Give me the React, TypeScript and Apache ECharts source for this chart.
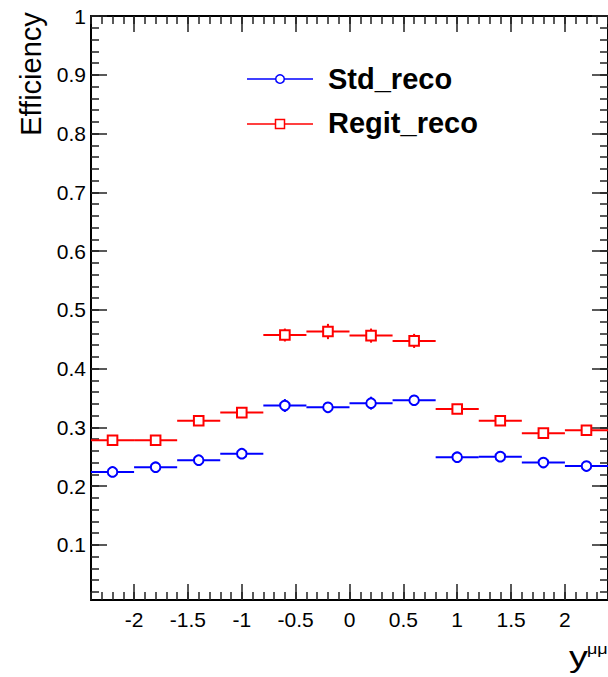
import React, { useEffect, useRef } from "react";
import * as echarts from "echarts";

// Rapidity bins (centre, half width 0.2)
const binCenters = [-2.2, -1.8, -1.4, -1.0, -0.6, -0.2, 0.2, 0.6, 1.0, 1.4, 1.8, 2.2];
const binHalfWidth = 0.2;

// Efficiencies and their statistical errors
const stdReco = [0.224, 0.232, 0.244, 0.255, 0.337, 0.334, 0.341, 0.346, 0.249, 0.25, 0.24, 0.234];
const stdRecoErr = [0.005, 0.005, 0.005, 0.006, 0.011, 0.009, 0.011, 0.009, 0.006, 0.006, 0.005, 0.005];
const regitReco = [0.278, 0.278, 0.311, 0.325, 0.457, 0.463, 0.456, 0.447, 0.331, 0.311, 0.29, 0.295];
const regitRecoErr = [0.006, 0.006, 0.007, 0.008, 0.011, 0.013, 0.012, 0.012, 0.008, 0.007, 0.006, 0.006];

// Axis ticks
const xMajorTicks = [-2, -1.5, -1, -0.5, 0, 0.5, 1, 1.5, 2];
const yMajorTicks = [0.1, 0.2, 0.3, 0.4, 0.5, 0.6, 0.7, 0.8, 0.9, 1];

const X_MIN = -2.4;
const X_MAX = 2.4;
const Y_MIN = 0.006;
const Y_MAX = 1;

const FONT = "'Liberation Sans', Arial, Helvetica, sans-serif";

function steps(from: number, to: number, step: number): number[] {
  const out: number[] = [];
  const n = Math.round((to - from) / step);
  for (let i = 0; i <= n; i++) out.push(+(from + i * step).toFixed(4));
  return out;
}

const xMinorTicks = steps(-2.4, 2.4, 0.1);
const yMinorTicks = steps(0.02, 1, 0.02);

function makeRenderItem(color: string, shape: "circle" | "square") {
  return (params: any, api: any) => {
    const x = api.value(0);
    const y = api.value(1);
    const e = api.value(2);
    const c = api.coord([x, y]);
    const l = api.coord([x - binHalfWidth, y]);
    const r = api.coord([x + binHalfWidth, y]);
    const t = api.coord([x, y + e]);
    const b = api.coord([x, y - e]);
    const lineStyle = { stroke: color, lineWidth: 2, fill: "none" };
    const markerStyle = { stroke: color, lineWidth: 2, fill: "#fff" };
    const marker =
      shape === "circle"
        ? { type: "circle", shape: { cx: c[0], cy: c[1], r: 4.8 }, style: markerStyle }
        : {
            type: "rect",
            shape: { x: c[0] - 4.8, y: c[1] - 4.8, width: 9.6, height: 9.6 },
            style: markerStyle,
          };
    return {
      type: "group",
      children: [
        { type: "line", shape: { x1: l[0], y1: c[1], x2: r[0], y2: c[1] }, style: lineStyle },
        { type: "line", shape: { x1: c[0], y1: t[1], x2: c[0], y2: b[1] }, style: lineStyle },
        marker,
      ],
    };
  };
}

function xAxisPair(position: "bottom" | "top", withLabels: boolean) {
  return [
    {
      type: "value",
      position,
      min: X_MIN,
      max: X_MAX,
      axisLine: { show: true, onZero: false, lineStyle: { color: "#000", width: 2 } },
      axisTick: {
        show: true,
        inside: true,
        length: 16,
        customValues: xMajorTicks,
        lineStyle: { color: "#222", width: 1.5 },
      },
      axisLabel: {
        show: withLabels,
        customValues: xMajorTicks,
        margin: 9,
        fontSize: 21,
        color: "#000",
        fontFamily: FONT,
      },
      splitLine: { show: false },
    },
    {
      type: "value",
      position,
      min: X_MIN,
      max: X_MAX,
      axisLine: { show: false, onZero: false },
      axisTick: {
        show: true,
        inside: true,
        length: 8,
        customValues: xMinorTicks,
        lineStyle: { color: "#222", width: 1.5 },
      },
      axisLabel: { show: false },
      splitLine: { show: false },
    },
  ];
}

function yAxisPair(position: "left" | "right", withLabels: boolean) {
  return [
    {
      type: "value",
      position,
      min: Y_MIN,
      max: Y_MAX,
      axisLine: { show: true, onZero: false, lineStyle: { color: "#000", width: 2 } },
      axisTick: {
        show: true,
        inside: true,
        length: 16,
        customValues: yMajorTicks,
        lineStyle: { color: "#222", width: 1.5 },
      },
      axisLabel: {
        show: withLabels,
        customValues: yMajorTicks,
        margin: 5,
        fontSize: 21,
        color: "#000",
        fontFamily: FONT,
      },
      splitLine: { show: false },
    },
    {
      type: "value",
      position,
      min: Y_MIN,
      max: Y_MAX,
      axisLine: { show: false, onZero: false },
      axisTick: {
        show: true,
        inside: true,
        length: 8,
        customValues: yMinorTicks,
        lineStyle: { color: "#222", width: 1.5 },
      },
      axisLabel: { show: false },
      splitLine: { show: false },
    },
  ];
}

export default function App() {
  const ref = useRef<HTMLDivElement>(null);

  useEffect(() => {
    if (!ref.current) return;
    const chart = echarts.init(ref.current, undefined, { renderer: "svg" });

    const stdData = binCenters.map((x, i) => [x, stdReco[i], stdRecoErr[i]]);
    const regitData = binCenters.map((x, i) => [x, regitReco[i], regitRecoErr[i]]);

    chart.setOption({
      animation: false,
      backgroundColor: "#fff",
      grid: { left: 91, top: 16, width: 520, height: 584, containLabel: false },
      xAxis: [...xAxisPair("bottom", true), ...xAxisPair("top", false)],
      yAxis: [...yAxisPair("left", true), ...yAxisPair("right", false)],
      series: [
        {
          name: "Std_reco",
          type: "custom",
          xAxisIndex: 0,
          yAxisIndex: 0,
          renderItem: makeRenderItem("#0000ff", "circle"),
          encode: { x: 0, y: 1 },
          data: stdData,
          clip: true,
          z: 3,
        },
        {
          name: "Regit_reco",
          type: "custom",
          xAxisIndex: 0,
          yAxisIndex: 0,
          renderItem: makeRenderItem("#ff0000", "square"),
          encode: { x: 0, y: 1 },
          data: regitData,
          clip: true,
          z: 4,
        },
      ],
      graphic: [
        // y-axis title
        {
          type: "text",
          x: 31,
          y: 74,
          rotation: Math.PI / 2,
          style: {
            text: "Efficiency",
            fontSize: 29,
            fontFamily: FONT,
            fill: "#000",
            textAlign: "center",
            textVerticalAlign: "middle",
          },
        },
        // x-axis title y^{μμ}
        {
          type: "text",
          x: 569,
          y: 672,
          scaleX: 1.3,
          style: {
            text: "y",
            fontSize: 29,
            fontFamily: FONT,
            fill: "#000",
            textAlign: "left",
            textVerticalAlign: "bottom",
          },
        },
        {
          type: "text",
          x: 587,
          y: 657,
          scaleX: 1.2,
          style: {
            text: "μμ",
            fontSize: 15,
            fontFamily: FONT,
            fill: "#000",
            textAlign: "left",
            textVerticalAlign: "bottom",
          },
        },
        // legend
        {
          type: "line",
          shape: { x1: 247, y1: 79, x2: 313, y2: 79 },
          style: { stroke: "#0000ff", lineWidth: 1.5 },
        },
        {
          type: "circle",
          shape: { cx: 280, cy: 79, r: 4.3 },
          style: { stroke: "#0000ff", lineWidth: 1.5, fill: "#fff" },
        },
        {
          type: "text",
          x: 328,
          y: 79,
          style: {
            text: "Std_reco",
            fontSize: 29,
            fontWeight: "bold",
            fontFamily: FONT,
            fill: "#000",
            textAlign: "left",
            textVerticalAlign: "middle",
          },
        },
        {
          type: "line",
          shape: { x1: 247, y1: 124, x2: 313, y2: 124 },
          style: { stroke: "#ff0000", lineWidth: 1.5 },
        },
        {
          type: "rect",
          shape: { x: 275.5, y: 119.5, width: 9, height: 9 },
          style: { stroke: "#ff0000", lineWidth: 1.5, fill: "#fff" },
        },
        {
          type: "text",
          x: 328,
          y: 123,
          style: {
            text: "Regit_reco",
            fontSize: 29,
            fontWeight: "bold",
            fontFamily: FONT,
            fill: "#000",
            textAlign: "left",
            textVerticalAlign: "middle",
          },
        },
      ],
    });

    return () => chart.dispose();
  }, []);

  return (
    <div
      ref={ref}
      style={{ position: "fixed", left: 0, top: 0, width: 608, height: 677, background: "#fff" }}
    />
  );
}
